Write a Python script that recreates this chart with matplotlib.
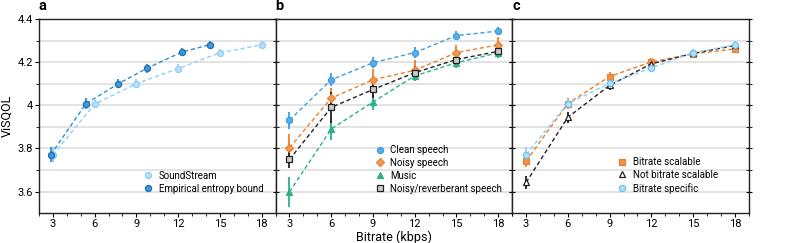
import matplotlib
matplotlib.use("Agg")
import matplotlib.pyplot as plt
from matplotlib.ticker import MultipleLocator, FixedLocator
from matplotlib.lines import Line2D

plt.rcParams['font.family'] = ['Roboto', 'DejaVu Sans']

bitrates = [3, 6, 9, 12, 15, 18]

# panel a
soundstream = [3.77, 4.005, 4.10, 4.17, 4.243, 4.28]
soundstream_err = [0.035, 0.02, 0.02, 0.02, 0.018, 0.018]
entropy_rates = [2.84, 5.37, 7.71, 9.74, 12.25, 14.28]
entropy_bound = [3.77, 4.007, 4.10, 4.171, 4.246, 4.281]
entropy_err = [0.035, 0.025, 0.022, 0.02, 0.018, 0.018]

# panel b
clean = [3.931, 4.118, 4.197, 4.244, 4.323, 4.344]
clean_err = [0.04, 0.03, 0.025, 0.025, 0.02, 0.02]
noisy = [3.803, 4.033, 4.118, 4.162, 4.244, 4.28]
noisy_err = [0.065, 0.045, 0.05, 0.05, 0.035, 0.035]
music = [3.598, 3.89, 4.015, 4.136, 4.197, 4.243]
music_err = [0.07, 0.05, 0.035, 0.025, 0.025, 0.025]
reverb = [3.749, 3.99, 4.073, 4.151, 4.212, 4.25]
reverb_err = [0.04, 0.07, 0.04, 0.03, 0.025, 0.025]

# panel c
scalable = [3.742, 4.008, 4.133, 4.201, 4.238, 4.261]
scalable_err = [0.03, 0.025, 0.02, 0.02, 0.018, 0.018]
not_scalable = [3.642, 3.944, 4.092, 4.192, 4.24, 4.277]
not_scalable_err = [0.03, 0.025, 0.02, 0.02, 0.018, 0.018]
specific = [3.771, 4.008, 4.101, 4.173, 4.243, 4.28]
specific_err = [0.035, 0.02, 0.02, 0.02, 0.018, 0.018]

LIGHT = '#8fd0f4'
DARK = '#2f8fd0'
BLUE = '#3d9de0'
ORANGE = '#e8812f'
GREEN = '#2bb08a'
BLACK = '#222222'

fig, axes = plt.subplots(1, 3, figsize=(7.89, 2.43), dpi=100, sharey=True)
fig.subplots_adjust(left=0.0494, right=0.949, top=0.922, bottom=0.123, wspace=0)

handles = {0: [], 1: [], 2: []}


def series(i, x, y, err, color, marker, mfc, mec, label, ms=4.4):
    ax = axes[i]
    ax.errorbar(x, y, yerr=err, color=color, ecolor=color, elinewidth=1.3,
                capsize=0, ls=(0, (3, 2)), lw=1.0, marker=marker, ms=ms,
                mfc=mfc, mec=mec, mew=0.9, zorder=3)
    handles[i].append(Line2D([], [], ls='none', marker=marker, ms=ms, mfc=mfc,
                             mec=mec, mew=0.9, label=label))


series(0, bitrates, soundstream, soundstream_err, LIGHT, 'o', '#b5e0f8', LIGHT, 'SoundStream')
series(0, entropy_rates, entropy_bound, entropy_err, DARK, 'o', '#3a9be0', '#1f6fae', 'Empirical entropy bound')

series(1, bitrates, clean, clean_err, BLUE, 'o', '#57b0ea', BLUE, 'Clean speech')
series(1, bitrates, noisy, noisy_err, ORANGE, 'D', '#f09a55', ORANGE, 'Noisy speech', ms=4.2)
series(1, bitrates, music, music_err, GREEN, '^', GREEN, GREEN, 'Music', ms=4.8)
series(1, bitrates, reverb, reverb_err, BLACK, 's', '#cccccc', BLACK, 'Noisy/reverberant speech')

series(2, bitrates, scalable, scalable_err, ORANGE, 's', '#f0924a', ORANGE, 'Bitrate scalable')
series(2, bitrates, not_scalable, not_scalable_err, BLACK, '^', 'white', BLACK, 'Not bitrate scalable', ms=4.8)
series(2, bitrates, specific, specific_err, LIGHT, 'o', '#b5e0f8', '#6cc0ee', 'Bitrate specific')

for i, ax in enumerate(axes):
    ax.set_xlim(2, 19)
    ax.set_ylim(3.5, 4.4)
    ax.xaxis.set_major_locator(FixedLocator(bitrates))
    ax.xaxis.set_minor_locator(MultipleLocator(1))
    ax.yaxis.set_major_locator(FixedLocator([3.6, 3.8, 4.0, 4.2, 4.4]))
    ax.yaxis.set_minor_locator(FixedLocator([3.7, 3.9, 4.1, 4.3]))
    ax.yaxis.grid(True, which='both', color='#e3e3e3', lw=1.4, zorder=0)
    ax.set_axisbelow(True)
    for s in ax.spines.values():
        s.set_linewidth(1.0)
        s.set_color('#222222')
    ax.tick_params(axis='x', which='major', direction='out', length=3, labelsize=8, pad=1.5)
    ax.tick_params(axis='x', which='minor', direction='out', length=2)
    ax.tick_params(axis='y', which='both', right=True, direction='inout', length=4, labelsize=8, pad=1.5)
    ax.text(0.0, 1.03, 'abc'[i], transform=ax.transAxes, fontsize=10.5, fontweight='bold', va='bottom')

axes[0].tick_params(axis='y', which='major', left=True, direction='out', length=3)
axes[0].tick_params(axis='y', which='minor', left=True, direction='out', length=2)
axes[0].set_yticklabels(['3.6', '3.8', '4', '4.2', '4.4'])
axes[0].set_ylabel('ViSQOL', fontsize=9, labelpad=3)
axes[1].set_xlabel('Bitrate (kbps)', fontsize=9, labelpad=1)

leg_kw = dict(frameon=False, fontsize=7, handlelength=1.0, handletextpad=0.6,
              labelspacing=0.3, borderpad=0, borderaxespad=0, loc='lower left')
for i, anchor in enumerate([(0.44, 0.1), (0.42, 0.1), (0.445, 0.1)]):
    axes[i].legend(handles=handles[i], bbox_to_anchor=anchor, **leg_kw)

fig.savefig('out.png', dpi=100)
